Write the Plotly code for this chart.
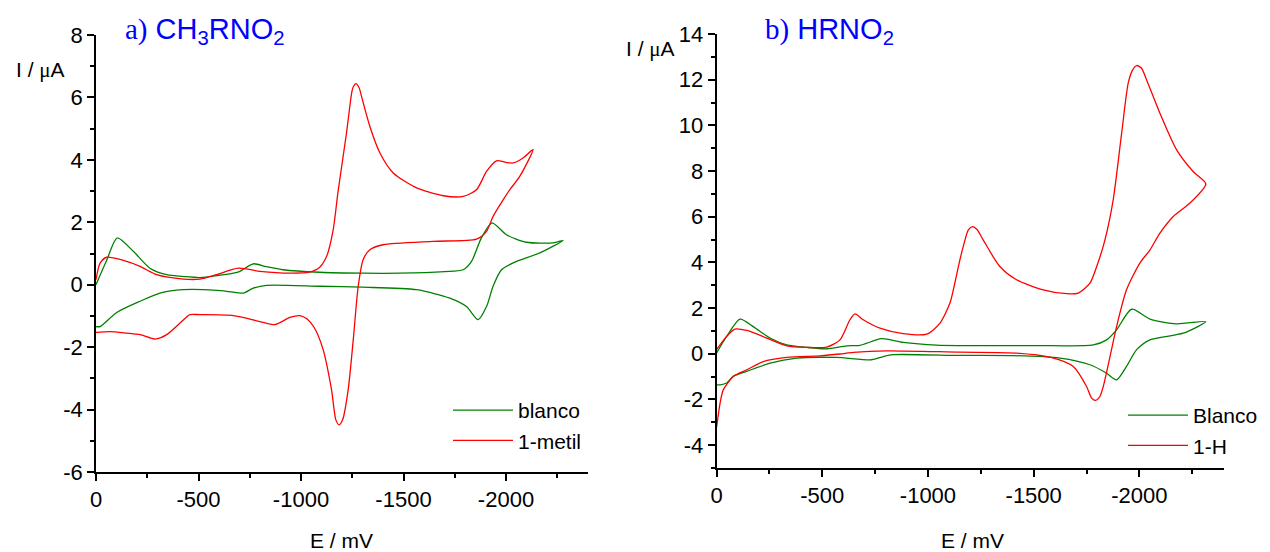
import plotly.graph_objects as go

# ---------------- data (E in mV, I in µA) ----------------
# panel a) CH3RNO2
a_blanco_E = [0, -50, -104, -182, -263, -345, -430, -507, -600, -670, -702, -767, -830, -913, -1092,
              -1300, -1482, -1700, -1791, -1832, -1880, -1932, -2002, -2100, -2230, -2279,
              -2165, -2035, -1978, -1937, -1905, -1864, -1807, -1726, -1564, -1300, -1092, -832,
              -767, -718, -650, -588, -426, -312, -215, -101, -20, 0]
a_blanco_I = [0.00, 0.75, 1.50, 1.07, 0.53, 0.32, 0.26, 0.23, 0.30, 0.37, 0.43, 0.67, 0.58, 0.48, 0.40,
              0.37, 0.37, 0.42, 0.48, 0.75, 1.50, 1.98, 1.60, 1.36, 1.34, 1.42,
              1.02, 0.70, 0.48, -0.05, -0.70, -1.12, -0.70, -0.43, -0.16, -0.08, -0.05, -0.02,
              -0.11, -0.27, -0.22, -0.18, -0.16, -0.27, -0.53, -0.89, -1.34, -1.34]

a_metil_E = [0, -20, -52, -133, -215, -296, -426, -507, -588, -694, -800, -946, -1040, -1090, -1125,
             -1157, -1181, -1222, -1247, -1255, -1268, -1284, -1295, -1336, -1385, -1450, -1564, -1694,
             -1791, -1856, -1905, -1954, -2000, -2035, -2083, -2132,
             -2067, -2018, -1986, -1937, -1905, -1856, -1645, -1401, -1336, -1303, -1279, -1255,
             -1230, -1203, -1186, -1170, -1149, -1108, -1065, -1030, -995, -946, -873, -800, -670, -507,
             -458, -410, -345, -288, -215, -150, -68, 0]
a_metil_I = [0.16, 0.69, 0.88, 0.78, 0.59, 0.32, 0.18, 0.18, 0.32, 0.53, 0.43, 0.37, 0.40, 0.55, 0.91,
             1.76, 3.00, 4.86, 6.14, 6.34, 6.44, 6.30, 6.04, 5.07, 4.22, 3.58, 3.10, 2.85,
             2.83, 3.04, 3.63, 3.97, 3.92, 3.90, 4.06, 4.33,
             3.47, 3.04, 2.72, 2.19, 1.71, 1.46, 1.39, 1.28, 1.12, 0.80, -0.05, -1.76,
             -3.37, -4.33, -4.49, -4.33, -3.37, -2.08, -1.38, -1.10, -0.99, -1.05, -1.28, -1.18, -0.99, -0.96,
             -0.96, -1.23, -1.60, -1.74, -1.60, -1.55, -1.50, -1.53]

# panel b) HRNO2
b_blanco_E = [0, -48, -111, -174, -253, -332, -427, -521, -616, -678, -781, -883, -1041, -1151, -1500,
              -1782, -1845, -1892, -1963, -2050, -2176, -2314,
              -2207, -2050, -1987, -1939, -1892, -1845, -1766, -1624, -1400, -1151, -836, -789,
              -734, -568, -379, -253, -143, -79, -48, -17, 0]
b_blanco_I = [0.03, 0.76, 1.52, 1.19, 0.69, 0.39, 0.28, 0.22, 0.35, 0.37, 0.66, 0.50, 0.38, 0.36, 0.36,
              0.39, 0.61, 1.05, 1.95, 1.52, 1.31, 1.41,
              0.90, 0.61, 0.18, -0.55, -1.14, -0.85, -0.48, -0.19, -0.08, -0.07, -0.04, -0.12,
              -0.26, -0.16, -0.19, -0.41, -0.77, -0.99, -1.28, -1.36, -1.36]

b_H_E = [0, -48, -87, -143, -237, -332, -427, -521, -584, -631, -655, -694, -773, -883, -994, -1057,
         -1104, -1120, -1151, -1167, -1191, -1211, -1233, -1261, -1340, -1419, -1545, -1656, -1711, -1766,
         -1798, -1837, -1876, -1916, -1947, -1968, -1987, -2010, -2034, -2097, -2176, -2254, -2314,
         -2239, -2160, -2097, -2050, -2002, -1939, -1892, -1861, -1829, -1813, -1793, -1774, -1750,
         -1687, -1577, -1419, -1151, -805, -647, -584, -489, -332, -221, -143, -79, -32, -17, 0]
b_H_I = [0.18, 0.76, 1.08, 1.02, 0.69, 0.35, 0.28, 0.29, 0.61, 1.49, 1.75, 1.49, 1.12, 0.88, 0.86, 1.34,
         2.22, 2.80, 4.11, 4.70, 5.43, 5.57, 5.43, 4.99, 3.82, 3.24, 2.80, 2.63, 2.66, 3.09,
         3.82, 4.99, 6.74, 9.66, 11.85, 12.43, 12.62, 12.50, 11.99, 10.53, 8.93, 7.98, 7.44,
         6.60, 6.01, 5.28, 4.55, 3.97, 2.80, 1.19, -0.12, -1.43, -1.87, -2.04, -1.94, -1.43,
         -0.56, -0.15, 0.03, 0.07, 0.13, 0.06, -0.01, -0.09, -0.16, -0.34, -0.70, -0.99, -1.58, -2.16, -3.25]

x_ticks = [0, -500, -1000, -1500, -2000]
a_y_ticks = [-6, -4, -2, 0, 2, 4, 6, 8]
b_y_ticks = [-4, -2, 0, 2, 4, 6, 8, 10, 12, 14]

GREEN = "#008000"
RED = "#ff0000"
FONT = "Liberation Sans, Arial, sans-serif"
SERIF = "Liberation Serif, Times New Roman, serif"

fig = go.Figure()
fig.add_trace(go.Scatter(x=a_blanco_E, y=a_blanco_I, mode="lines", name="blanco",
                         line=dict(color=GREEN, width=1.3, shape="spline", smoothing=0.7),
                         xaxis="x", yaxis="y", legend="legend"))
fig.add_trace(go.Scatter(x=a_metil_E, y=a_metil_I, mode="lines", name="1-metil",
                         line=dict(color=RED, width=1.3, shape="spline", smoothing=0.7),
                         xaxis="x", yaxis="y", legend="legend"))
fig.add_trace(go.Scatter(x=b_blanco_E, y=b_blanco_I, mode="lines", name="Blanco",
                         line=dict(color=GREEN, width=1.3, shape="spline", smoothing=0.7),
                         xaxis="x2", yaxis="y2", legend="legend2"))
fig.add_trace(go.Scatter(x=b_H_E, y=b_H_I, mode="lines", name="1-H",
                         line=dict(color=RED, width=1.3, shape="spline", smoothing=0.7),
                         xaxis="x2", yaxis="y2", legend="legend2"))

# the page body has an 8px margin, so the figure is placed at (8, 8) in the window
OFF = 8
W, H = 1270 - OFF, 552 - OFF


def px(x):
    return (x - OFF) / W


def py(y):
    return 1 - (y - OFF) / H


axis_common = dict(showline=True, linecolor="black", linewidth=1.5, ticks="outside", ticklen=7,
                   tickwidth=1.5, tickcolor="black", showgrid=False, zeroline=False, mirror=False,
                   automargin=False,
                   tickfont=dict(family=FONT, size=22, color="black"))
minor_x = dict(ticks="outside", ticklen=4, tickwidth=1.5, tickcolor="black", dtick=250)
minor_y = dict(ticks="outside", ticklen=4, tickwidth=1.5, tickcolor="black", dtick=1)

fig.update_layout(
    width=W, height=H,
    margin=dict(l=0, r=0, t=0, b=0, autoexpand=False),
    paper_bgcolor="white", plot_bgcolor="white",
    xaxis=dict(domain=[px(96), px(588)], range=[0, -2400], anchor="y",
               tickvals=x_ticks, ticktext=[str(v) for v in x_ticks], minor=minor_x, **axis_common),
    yaxis=dict(domain=[py(472), py(35)], range=[-6, 8], anchor="x",
               tickvals=a_y_ticks, ticktext=[str(v) for v in a_y_ticks], minor=minor_y, **axis_common),
    xaxis2=dict(domain=[px(716.5), px(1224)], range=[0, -2400], anchor="y2",
                tickvals=x_ticks, ticktext=[str(v) for v in x_ticks], minor=minor_x, **axis_common),
    yaxis2=dict(domain=[py(468), py(34)], range=[-5, 14], anchor="x2",
                tickvals=b_y_ticks, ticktext=[str(v) for v in b_y_ticks], minor=minor_y, **axis_common),
    legend=dict(x=px(448), y=py(390), xanchor="left", yanchor="top", bgcolor="rgba(0,0,0,0)",
                font=dict(family=FONT, size=21, color="black"), itemwidth=60, tracegroupgap=0),
    legend2=dict(x=px(1123), y=py(395), xanchor="left", yanchor="top", bgcolor="rgba(0,0,0,0)",
                 font=dict(family=FONT, size=21, color="black"), itemwidth=60, tracegroupgap=0),
    showlegend=True,
)

annotations = [
    dict(text=f'<span style="font-family:{SERIF}">a)</span> CH<sub>3</sub>RNO<sub>2</sub>',
         x=px(123), y=py(31), xanchor="left", yanchor="middle", font=dict(family=FONT, size=29, color="#0000ff")),
    dict(text=f'<span style="font-family:{SERIF}">b)</span> HRNO<sub>2</sub>',
         x=px(763), y=py(31), xanchor="left", yanchor="middle", font=dict(family=FONT, size=29, color="#0000ff")),
    dict(text=f'I / <span style="font-family:{SERIF}">μ</span>A', x=px(14), y=py(70), xanchor="left", yanchor="middle",
         font=dict(family=FONT, size=21, color="black")),
    dict(text=f'I / <span style="font-family:{SERIF}">μ</span>A', x=px(624), y=py(49), xanchor="left", yanchor="middle",
         font=dict(family=FONT, size=21, color="black")),
    dict(text="E / mV", x=px(341), y=py(540), xanchor="center", yanchor="middle",
         font=dict(family=FONT, size=21, color="black")),
    dict(text="E / mV", x=px(972), y=py(540), xanchor="center", yanchor="middle",
         font=dict(family=FONT, size=21, color="black")),
]
for a in annotations:
    a.update(xref="paper", yref="paper", showarrow=False)
fig.update_layout(annotations=annotations)

fig.write_html("out.html")
